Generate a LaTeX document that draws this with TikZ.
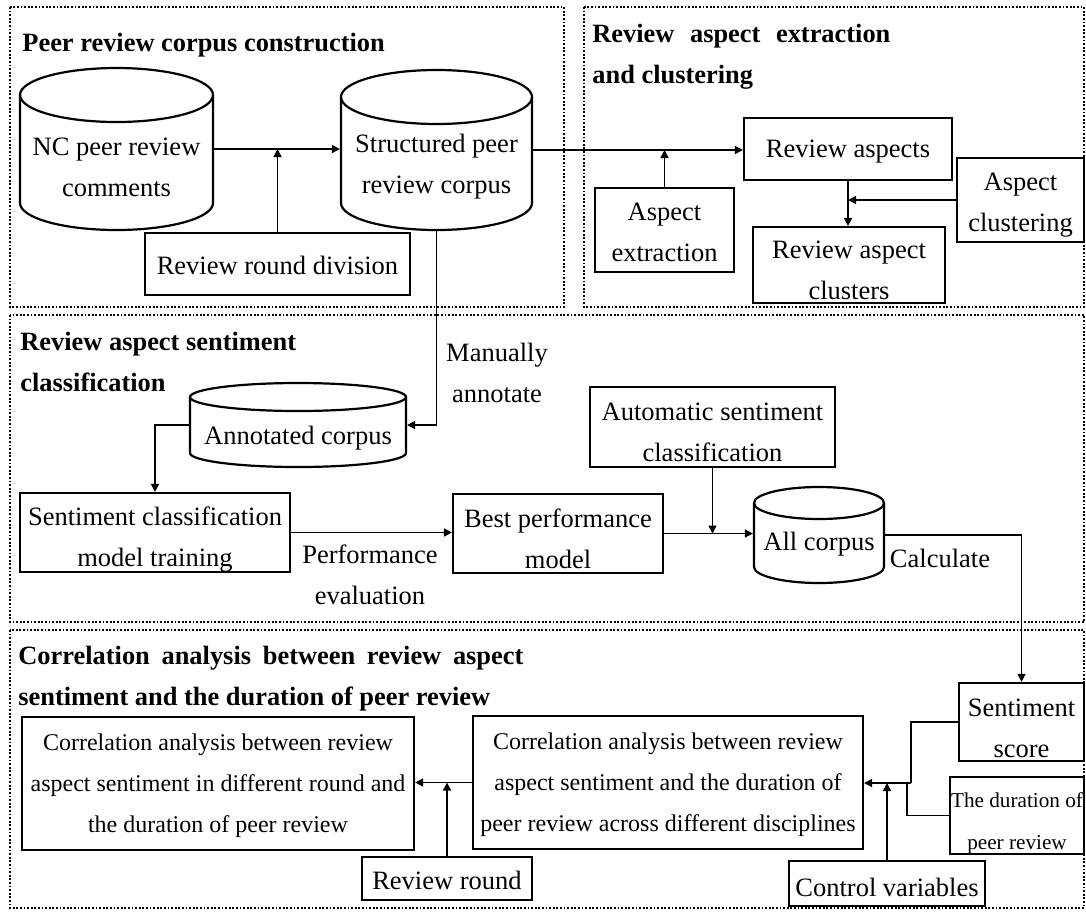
\documentclass[tikz,border=0pt]{standalone}
\usepackage{fontspec}
\setmainfont{Liberation Serif}
\usetikzlibrary{arrows.meta}
\newcommand\fsbody{\fontsize{13.25pt}{20.5pt}\selectfont}
\newcommand\fscorr{\fontsize{12pt}{20.5pt}\selectfont}
\newcommand\fsdur{\fontsize{10.6pt}{21pt}\selectfont}
\newcommand\fstitle{\fontsize{13.2pt}{20.5pt}\selectfont\bfseries}
\newcommand\bx[7][]{%
 \pgfmathsetmacro\bxcx{(#3+#5)/2}%
 \pgfmathsetmacro\bxcy{-(#4+#6)/2}%
 \pgfmathsetmacro\bxw{(#5-#3)/2}%
 \pgfmathsetmacro\bxh{(#6-#4)/2}%
 \node[box,minimum width=\bxw pt,minimum height=\bxh pt] (#2) at (\bxcx,\bxcy) {};
 \node[txt,#1] (#2t) at (#2.center) {#7};}
\newcommand\cyl[6]{%
 \pgfmathsetmacro\cyrx{(#4-#2)/4}%
 \pgfmathsetmacro\cyry{#6/2}%
 \pgfmathsetmacro\cycx{(#2+#4)/2}%
 \pgfmathsetmacro\cycy{-(#3+#5)/2}%
 \pgfmathsetmacro\cyw{(#4-#2)/2}%
 \pgfmathsetmacro\cyh{(#5-#3)/2}%
 \draw[cylline] (#2,-#3-#6) -- (#2,-#5+#6) arc[start angle=180,end angle=360,x radius=\cyrx pt,y radius=\cyry pt] -- (#4,-#3-#6) arc[start angle=0,end angle=180,x radius=\cyrx pt,y radius=\cyry pt] -- cycle;
 \draw[cylline] (#2,-#3-#6) arc[start angle=180,end angle=360,x radius=\cyrx pt,y radius=\cyry pt];
 \node[cylnode,minimum width=\cyw pt,minimum height=\cyh pt] (#1) at (\cycx,\cycy) {};}
\tikzset{
 box/.style={draw,line width=1.1pt,rectangle,inner sep=0pt},
 cylline/.style={line width=1.1pt},
 cylnode/.style={draw=none,rectangle,inner sep=0pt,outer sep=0.55pt},
 txt/.style={inner sep=0pt,align=center,font=\fsbody},
 ttl/.style={inner sep=0pt,anchor=base west,font=\fstitle},
 conn/.style={line width=0.8pt,-{Triangle[length=4pt,width=4pt]}},
 thinline/.style={line width=0.6pt},
 thinconn/.style={line width=0.6pt,-{Triangle[length=4pt,width=4pt]}},
 panel/.style={draw,line width=1pt,dash pattern=on 0.9pt off 0.9pt},
}
\begin{document}
\begin{tikzpicture}[x=0.5pt,y=0.5pt]
\useasboundingbox (0,0) rectangle (1086,-911);
% panels
\draw[panel] (10,-7) rectangle (564,-307);
\draw[panel] (584,-7) rectangle (1084,-307);
\draw[panel] (10,-315) rectangle (1084,-622);
\draw[panel] (10,-630) rectangle (1084,-908);
% titles
\node[ttl] (t1) at (22,-51) {Peer review corpus construction};
\node[ttl] (t2a) at (592,-42) {\makebox[149pt][s]{Review aspect extraction}};
\node[ttl] (t2b) at (592,-83) {and clustering};
\node[ttl] (t3a) at (20,-350) {Review aspect sentiment};
\node[ttl] (t3b) at (20,-391) {classification};
\node[ttl] (t4a) at (18,-664) {\makebox[252.5pt][s]{Correlation analysis between review aspect}};
\node[ttl] (t4b) at (18,-705) {sentiment and the duration of peer review};
% cylinders
\cyl{nc}{20}{68}{213}{230}{27}
\cyl{sc}{341}{70}{532}{230}{27}
\cyl{ann}{190}{383}{406}{467}{14}
\cyl{all}{754}{487}{884}{583}{16}
\node[txt] (nct) at (116.5,-167) {NC peer review\\comments};
\node[txt] (sct) at (436.5,-167) {Structured peer\\review corpus};
\node[txt] (annt) at (298,-438) {Annotated corpus};
\node[txt] (allt) at (819,-544) {All corpus};
% boxes
\bx[yshift=-0.5pt]{rrd}{145}{233}{410}{295}{Review round division}
\bx[yshift=-1pt]{aex}{595}{188}{734}{272}{Aspect\\extraction}
\bx[yshift=-1.5pt]{ras}{744}{118}{952}{180}{Review aspects}
\bx[yshift=-2.5pt]{acl}{957}{158}{1084}{242}{Aspect\\clustering}
\bx[yshift=-2.5pt]{rac}{753}{227}{945}{303}{Review aspect\\clusters}
\bx[yshift=-3.5pt]{scmt}{20}{493}{290}{572}{Sentiment classification\\model training}
\bx[yshift=-2.5pt]{bpm}{453}{494}{663}{573}{Best performance\\model}
\bx[yshift=-2.5pt]{asc}{590}{387}{835}{467}{Automatic sentiment\\classification}
\bx[yshift=-3pt]{ss}{959}{683}{1084}{761}{Sentiment\\score}
\bx[yshift=-4pt,font=\fsdur]{dur}{950}{777}{1084}{854}{The duration of\\peer review}
\bx[yshift=-2pt]{cv}{789}{861}{985}{906}{Control variables}
\bx[yshift=-1pt]{rr}{362}{857}{532}{900}{Review round}
\bx[yshift=-1.2pt,font=\fscorr]{cadd}{473}{716}{863}{849}{Correlation analysis between review\\aspect sentiment and the duration of\\peer review across different disciplines}
\bx[yshift=-1.2pt,font=\fscorr]{cadr}{22}{717}{414}{850}{Correlation analysis between review\\aspect sentiment in different round and\\the duration of peer review}
% labels
\node[txt] (lman) at (497,-373) {Manually\\annotate};
\node[txt] (lperf) at (370,-575) {Performance\\evaluation};
\node[txt] (lcalc) at (940,-558) {Calculate};
% connectors
\draw[conn] (nc.east) -- (nc.east -| sc.west);
\draw[conn] (rrd.north) -- (rrd.north |- nc.east);
\draw[conn] (sc.east) -- (sc.east -| ras.west);
\draw[conn] (aex.north) -- (aex.north |- sc.east);
\draw[conn] (ras.south) -- (ras.south |- rac.north);
\draw[conn] (acl.west) -- (acl.west -| ras.south);
\draw[conn] (sc.south) |- (ann.east);
\draw[conn] (ann.west) -| (scmt.north);
\draw[conn] (scmt.east) -- (scmt.east -| bpm.west);
\draw[conn] (bpm.east) -- (bpm.east -| all.west);
\draw[conn] (asc.south) -- (asc.south |- bpm.east);
\draw[thinconn] (all.east) -| (ss.north);
\coordinate (j1) at (911,-783);
\coordinate (j2) at (907,-783);
\draw[thinline] (ss.west) -| (j1);
\draw[thinline] (dur.west) -| (j2);
\draw[conn] (j1) -- (j1 -| cadd.east);
\draw[conn] (cv.north) -- (cv.north |- j1);
\draw[conn] (cadd.west) -- (cadd.west -| cadr.east);
\draw[conn] (rr.north) -- (rr.north |- cadd.west);
\end{tikzpicture}
\end{document}
